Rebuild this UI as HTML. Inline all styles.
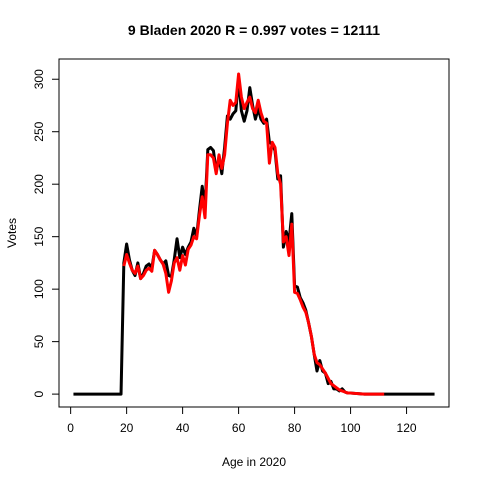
<!DOCTYPE html>
<html><head><meta charset="utf-8"><style>
body{margin:0;background:#fff}
svg{display:block;font-family:"Liberation Sans",Arial,sans-serif}
</style></head><body>
<svg id="chart" width="480" height="480" xmlns="http://www.w3.org/2000/svg">
<rect width="480" height="480" fill="#fff"/>
<text x="254" y="35" text-anchor="middle" font-weight="bold" font-size="14">9 Bladen 2020 R = 0.997 votes = 12111</text>
<text x="254" y="466" text-anchor="middle" font-size="12">Age in 2020</text>
<text transform="translate(16,233) rotate(-90)" text-anchor="middle" font-size="12">Votes</text>
<rect x="59" y="59" width="390" height="348" fill="none" stroke="#000" stroke-width="1"/>
<g id="axes"></g>
<g id="series"></g>
</svg>
<script>
const blackAges = [1,18,19,20,21,22,23,24,25,26,27,28,29,30,31,32,33,34,35,36,37,38,39,40,41,42,43,44,45,46,47,48,49,50,51,52,53,54,55,56,57,58,59,60,61,62,63,64,65,66,67,68,69,70,71,72,73,74,75,76,77,78,79,80,81,82,83,84,85,86,87,88,89,90,91,92,93,94,95,96,97,98,99,100,105,110,130];
const blackVotes = [0,0,125,143,128,118,113,125,110,115,122,124,120,137,133,128,124,127,113,112,128,148,130,140,133,140,145,158,150,175,198,178,233,235,232,212,225,210,235,265,262,267,270,300,270,260,270,292,275,262,272,262,258,262,240,238,232,205,208,140,155,145,172,103,102,92,87,80,68,55,38,22,32,22,20,10,12,5,5,3,5,2,1,1,0,0,0];
const redAges = [19,20,21,22,23,24,25,26,27,28,29,30,31,32,33,34,35,36,37,38,39,40,41,42,43,44,45,46,47,48,49,50,51,52,53,54,55,56,57,58,59,60,61,62,63,64,65,66,67,68,69,70,71,72,73,74,75,76,77,78,79,80,81,82,83,84,85,86,87,88,89,90,91,92,93,94,95,96,97,98,99,100,105,112];
const redVotes = [122,133,125,118,115,122,110,113,118,120,117,137,133,128,124,115,97,108,125,130,118,132,123,138,142,150,148,170,188,168,228,228,225,210,228,215,228,258,280,275,278,305,283,272,278,283,272,268,280,268,260,258,220,240,235,210,200,145,150,132,162,97,96,90,83,78,68,55,38,30,28,24,20,15,10,8,6,4,3,2,1,1,0,0];
const xTicks = [0,20,40,60,80,100,120];
const yTicks = [0,50,100,150,200,250,300];

const NS="http://www.w3.org/2000/svg";
const L=59,R=449,T=59,B=407;
const xmin=1-129*0.04,xmax=130+129*0.04,ymin=-307*0.04,ymax=307*1.04;
const xs=v=>L+(v-xmin)/(xmax-xmin)*(R-L);
const ys=v=>B-(v-ymin)/(ymax-ymin)*(B-T);
const axes=document.getElementById('axes'),series=document.getElementById('series');
function mk(tag,attrs,parent){const e=document.createElementNS(NS,tag);for(const k in attrs)e.setAttribute(k,attrs[k]);parent.appendChild(e);return e;}

const xl=mk('line',{x1:xs(xTicks[0]),x2:xs(xTicks[xTicks.length-1]),y1:B,y2:B,stroke:'#000'},axes);


xTicks.forEach(t=>{
  const tk=mk('line',{x1:xs(t),x2:xs(t),y1:B,y2:B+7,stroke:'#000'},axes);
  
  
  const tx=mk('text',{x:xs(t),y:B+25,'text-anchor':'middle','font-size':12},axes);
  tx.textContent=t;
  
  
});
const yl=mk('line',{x1:L,x2:L,y1:ys(yTicks[0]),y2:ys(yTicks[yTicks.length-1]),stroke:'#000'},axes);


yTicks.forEach(t=>{
  const tk=mk('line',{x1:L-7,x2:L,y1:ys(t),y2:ys(t),stroke:'#000'},axes);
  
  
  const tx=mk('text',{transform:`translate(${L-16},${ys(t)}) rotate(-90)`,'text-anchor':'middle','font-size':12},axes);
  tx.textContent=t;
  
  
});
function line(ax,vals,color){return mk('polyline',{points:ax.map((a,i)=>xs(a)+','+ys(vals[i])).join(' '),fill:'none',stroke:color,'stroke-width':3,'stroke-linejoin':'round'},series);}
const bl=line(blackAges,blackVotes,'#000');


const rl=line(redAges,redVotes,'#f00');


</script>
</body></html>
